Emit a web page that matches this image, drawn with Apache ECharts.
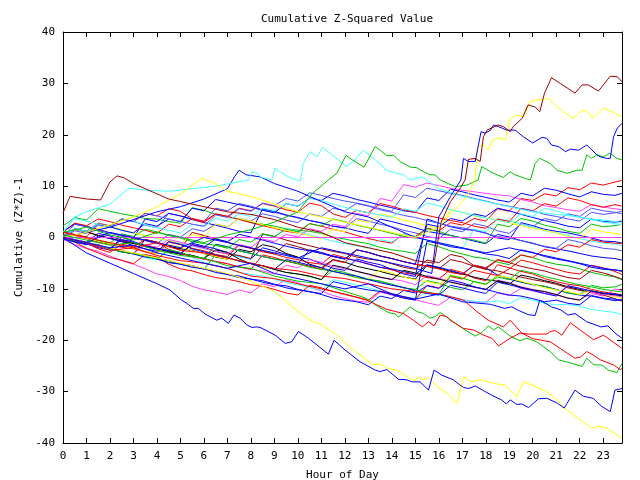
<!DOCTYPE html>
<html><head><meta charset="utf-8">
<script src="https://cdn.jsdelivr.net/npm/echarts@6/dist/echarts.min.js"></script>
<style>html,body{margin:0;padding:0;background:#fff}#c{width:640px;height:480px}</style>
</head><body><div id="c"></div>
<script>
const TITLE = "Cumulative Z-Squared Value";
const X_NAME = "Hour of Day";
const Y_NAME = "Cumulative (Z*Z)-1";
const HOURS = [0,1,2,3,4,5,6,7,8,9,10,11,12,13,14,15,16,17,18,19,20,21,22,23,23.8];
const HALF = [0,0.5,1,1.5,2,2.5,3,3.5,4,4.5,5,5.5,6,6.5,7,7.5,8,8.5,9,9.5,10,10.5,11,11.5,12,12.5,13,13.5,14,14.5,15,15.5,16,16.5,17,17.5,18,18.5,19,19.5,20,20.5,21,21.5,22,22.5,23,23.5,23.8];

// Outlier series as [hour, value] pairs
const darkredTop = [[0,4.8],[0.3,8],[1,7.5],[1.6,7.3],[2,10.8],[2.3,12],[2.6,11.6],[3,10.5],[4,8.5],[4.5,7.5],[5,7],[6,6],[7,5],[8,4.5],[9,3.5],[10,2],[11,1],[12,-1],[13,-2],[14,-3],[15,-4.5],[15.8,-5],[16.1,3],[16.5,7],[16.9,9.5],[17.12,11.2],[17.26,15.2],[17.55,15.4],[17.76,14.8],[17.9,19.6],[18.05,20.9],[18.53,21.9],[18.74,21.6],[19.04,20.6],[19.17,21.6],[19.55,23.2],[19.8,25.8],[20.1,25.4],[20.3,24.5],[20.5,28.1],[20.8,31.1],[21.17,30],[21.8,28.1],[22.1,29.7],[22.36,29.7],[22.8,28.5],[23.3,31.4],[23.6,31.3],[23.8,30.3]];
const yellowTop = [[0,0],[1,1],[2,2.5],[3,4],[4,6],[5,8.5],[5.9,11.5],[6.5,10.5],[7,9],[8,8],[9,6.5],[10,5],[11,4],[12,3],[13,2],[14,1],[15,0],[16,2],[16.6,5],[17.2,8],[17.55,11.6],[17.65,17.7],[17.9,18],[18.1,17],[18.3,19],[18.53,19.4],[18.83,19],[19.04,23.2],[19.34,23.8],[19.6,23.5],[19.9,26.4],[20.2,26.8],[20.4,26.8],[20.66,27.1],[20.96,25.8],[21.3,24.5],[21.72,23.2],[22.1,24.8],[22.32,24.5],[22.57,23.2],[23,25.2],[23.38,24.5],[23.8,23.5]];
const blueTop = [[0,0],[1,-1],[2,1],[3,0],[4,-1],[5,-2],[6,0],[7,-1],[8,-2],[9,-3],[10,-4],[11,-2],[12,-3],[13,-4],[14,-5],[15,-6],[15.7,-7],[16.0,4],[16.5,8],[16.94,11.2],[17.05,15.4],[17.25,14.8],[17.55,14.8],[17.8,20.6],[17.98,20.3],[18.2,20.9],[18.33,21.9],[18.53,21.6],[18.9,20.9],[19.25,20.9],[19.6,19.6],[20.0,18.4],[20.4,19.5],[20.6,19.3],[20.8,18],[21.1,17.7],[21.4,16.7],[21.6,17.2],[21.95,17],[22.3,18],[22.73,16.1],[22.87,15.7],[23.15,15.4],[23.3,15.4],[23.44,19.6],[23.6,21.3],[23.8,22.2]];
const greenTop = [[0,1],[1,2],[2,0.5],[3,-0.5],[4,1],[5,0],[6,-1],[7,0.5],[8,1.5],[9,3],[10,5],[10.6,8.5],[11.3,11.2],[11.66,12.5],[11.87,14.4],[12.05,16],[12.22,15.4],[12.5,14.6],[12.82,13.7],[13.29,17.7],[13.5,17],[13.79,15.9],[14.07,16],[14.35,14.8],[14.78,13.7],[15.06,13.6],[15.35,12.8],[15.63,12.2],[15.84,12.2],[16.06,11.2],[16.4,10.5],[16.7,9.9],[17.2,10.2],[17.67,11.2],[17.83,13.8],[18.2,12.8],[18.48,12.2],[18.74,11.7],[19.04,12.8],[19.25,12.2],[19.68,11.5],[19.9,11.2],[20.1,14.4],[20.3,15.4],[20.74,14.4],[21.03,13.1],[21.45,12.5],[21.88,13.1],[22.1,13.1],[22.3,16.1],[22.5,15.4],[22.73,16.1],[23.01,15.7],[23.3,16.4],[23.58,15.4],[23.8,15.1]];
const cyanTop = [[0,1],[0.5,4],[1,5],[2,6.5],[2.8,9.6],[3.5,9.2],[4.5,9],[5.5,9.5],[6.5,10],[7.9,11.2],[8.04,12.8],[8.3,12.5],[8.39,11.8],[8.89,11.2],[9.03,13.5],[9.24,12.8],[9.6,11.8],[9.95,11.2],[10.1,11.0],[10.23,14.4],[10.52,16.7],[10.8,15.7],[11.06,17.5],[11.37,16.4],[11.8,14.8],[12.05,13.8],[12.36,14.8],[12.79,17],[13.29,15.1],[13.79,13.1],[14.07,12.7],[14.5,12.2],[14.78,11.2],[15.28,11.8],[15.5,11.2],[16,9.5],[17,8],[18,7],[19,6],[20,5],[21,4.5],[22,4],[23,3],[23.8,2.5]];
const blueMid = [[0,0],[1,1],[2,2],[3,3.5],[4,5],[5,6],[6,7.5],[7,9.5],[7.3,11.8],[7.5,13.1],[7.8,12.2],[8.4,11.8],[9,10.5],[10,9],[11,7],[12,5],[13,4],[14,2],[15,0],[16,-1],[17,-2],[18,-3],[19,-2],[20,-3],[21,-4],[22,-5],[23,-6],[23.8,-6.5]];
const yellowBottom = [[0,0],[1,-1],[2,-2],[3,-3],[4,-4],[5,-5],[6,-6],[7,-7],[8,-8.5],[9,-10.5],[9.45,-12.2],[9.66,-13.1],[10.2,-15.1],[10.66,-16.4],[11.02,-17],[11.66,-19],[12.22,-21.3],[12.65,-22.9],[13.2,-24.8],[13.5,-24.6],[13.85,-25.5],[14.2,-25.8],[14.64,-27.1],[14.92,-27.9],[15.13,-27.2],[15.34,-27.7],[15.56,-27.2],[15.91,-29],[16.34,-30.3],[16.77,-32.3],[17.05,-27.1],[17.4,-28.1],[17.76,-27.7],[18.11,-28.1],[18.46,-28.5],[18.82,-28.7],[19.32,-31],[19.6,-28.1],[19.96,-28.7],[20.6,-30],[20.96,-31.3],[21.45,-33.6],[22.02,-35.5],[22.52,-37.1],[22.8,-36.7],[23.15,-37.1],[23.8,-39.1]];
const blueBottom = [[0,0],[0.5,-1.5],[1,-3],[2,-5],[3,-7],[4,-9],[4.55,-10.2],[5.05,-12.2],[5.27,-12.8],[5.55,-13.8],[5.76,-13.8],[6.05,-14.9],[6.55,-16.1],[6.76,-15.7],[7.04,-16.7],[7.28,-15.1],[7.54,-15.7],[7.82,-17],[8.04,-17.5],[8.25,-17.4],[8.39,-17.5],[9.03,-19],[9.46,-20.6],[9.74,-20.3],[10.02,-18.3],[10.45,-19.6],[11.3,-22.7],[11.54,-20],[12.01,-21.9],[12.65,-24.2],[13.29,-25.8],[13.5,-26.1],[13.79,-25.7],[14.28,-27.6],[14.64,-27.7],[14.85,-28.1],[15.2,-28.1],[15.56,-29.7],[15.8,-25.8],[16.13,-26.8],[16.62,-27.7],[16.9,-28.7],[17.06,-29.2],[17.27,-29.4],[17.55,-28.9],[17.9,-29.8],[18.25,-30.7],[18.67,-31.6],[18.88,-32.4],[19.04,-31.6],[19.32,-32.5],[19.53,-32.4],[19.82,-33.1],[20.24,-31.4],[20.6,-31.3],[21.03,-32.2],[21.34,-33.2],[21.8,-29.7],[22.15,-30.9],[22.57,-31.3],[22.94,-32.9],[23.3,-33.9],[23.5,-29.7],[23.8,-29.4]];
const greenLow = [[0,0.5],[1,-0.5],[2,-1.5],[3,-1],[4,-2.5],[5,-3.5],[6,-4],[7,-5.5],[8,-6],[9,-7.5],[10,-8.5],[11,-9],[12,-10.5],[12.7,-11.5],[13.07,-12.2],[13.29,-13.1],[13.85,-14.6],[14.14,-14.9],[14.28,-15.5],[14.78,-13.5],[15.06,-14.4],[15.35,-14.8],[15.63,-15.7],[15.84,-15.4],[16.06,-14.6],[16.34,-15.5],[16.62,-16.4],[17.12,-18],[17.55,-19.2],[17.83,-18.5],[18.11,-17.2],[18.33,-18],[18.54,-17.4],[19.04,-19.2],[19.46,-20.1],[19.75,-19.6],[20.17,-20.3],[20.74,-22.2],[21.09,-23.8],[21.6,-24.4],[22.1,-25.1],[22.3,-23.5],[22.6,-24.8],[22.94,-24.8],[23.22,-25.8],[23.58,-26.3],[23.8,-24.5]];
const redA = [[0,0],[1,-1],[2,-2.5],[3,-2],[4,-3.5],[5,-4.5],[6,-5],[7,-6],[8,-7.5],[9,-8],[10,-9],[11,-10],[12,-11],[12.93,-12.2],[13.36,-13.1],[13.79,-14],[14.5,-14.8],[14.92,-16.1],[15.3,-17.4],[15.56,-16.4],[15.8,-17.2],[16.06,-15.1],[16.34,-15.4],[16.48,-16.1],[17.05,-17.7],[17.48,-18],[17.9,-19],[18.26,-19.6],[18.54,-21.1],[19.04,-19.6],[19.46,-18.6],[19.82,-18.8],[20.6,-18.8],[20.74,-18.3],[20.96,-18.1],[21.24,-19],[21.6,-16.6],[22.02,-18],[22.59,-19.9],[23.01,-19],[23.5,-20.6],[23.8,-21.6]];
const redB = [[0,1],[1,0],[2,-1],[3,-2],[4,-1],[5,-2.5],[6,-3],[7,-4],[8,-5],[9,-6],[10,-6.5],[11,-7.5],[12,-8],[13,-9],[14,-10],[15,-10.5],[16,-11],[16.5,-11.5],[17.05,-12.2],[17.62,-14.4],[18.11,-16.1],[18.75,-17.4],[19.04,-16.1],[19.53,-18.6],[20.0,-19.7],[20.74,-20.3],[21.17,-21.6],[21.8,-23.5],[22.02,-23.3],[22.3,-22.2],[22.59,-22.9],[22.87,-23.8],[23.44,-24.8],[23.72,-25.7],[23.8,-25.5]];
const blueLow = [[0,0],[1,-1],[2,-2],[3,-1.5],[4,-3],[5,-4],[6,-5],[7,-6],[8,-5],[9,-7],[10,-8],[11,-9],[12,-10],[13,-9],[14,-11],[15,-12],[16,-11],[17,-12.5],[18.2,-13],[18.8,-13.8],[19.1,-13.5],[19.4,-14.2],[19.8,-15],[20.1,-15.2],[20.3,-12.2],[20.8,-13.5],[21.2,-14.1],[21.5,-15.1],[21.8,-14.8],[22.3,-16.4],[22.9,-17.4],[23.2,-17.2],[23.5,-18.6],[23.8,-19.6]];

// Cluster series, one value per entry of HALF (half-hour steps)
const c01 = [0.3,-0.8,-1.2,-2.0,-2.4,0.1,-0.8,-1.6,-2.1,-2.5,-3.3,-1.1,-1.7,-2.2,-2.9,-3.7,-4.2,-2.0,-2.6,-3.3,-3.9,-4.2,-5.1,-6.0,-6.4,-4.2,-4.8,-5.3,-6.2,-7.1,-7.6,3.6,2.8,2.1,1.6,1.4,0.9,-0.1,-0.4,2.9,2.3,1.6,1.2,0.9,0.4,-0.1,-0.7,-0.8,-1.1];
const c02 = [0.6,0.4,-0.2,-0.9,-1.3,-1.9,-2.2,-2.8,-3.1,-0.9,-1.4,-2.1,-2.6,-3.3,-3.7,-1.5,-2.1,-2.8,-3.2,-3.9,-4.3,-4.9,-5.2,-3.3,-3.9,-4.6,-5.1,-5.8,-6.3,-6.9,-7.2,-7.8,-8.1,-6.2,-6.8,-7.9,-8.4,-5.3,-5.9,-6.6,-7.1,-8.0,-8.6,-9.1,-9.4,-10.1,-10.6,-10.9,-11.2];
const c03 = [2.2,3.9,3.4,5.6,5.1,4.6,4.2,3.7,3.6,3.1,2.8,5.8,5.3,4.5,4.1,3.6,2.9,2.6,2.2,1.7,1.4,1.2,0.8,0.1,-0.3,-0.8,-1.2,-1.9,-2.4,-2.7,-3.1,-1.2,-1.8,-2.6,-3.2,-3.8,-4.1,-4.8,-5.3,-3.4,-3.9,-4.7,-5.2,-5.5,-6.1,-6.8,-7.3,-7.7,-8.2];
const c04 = [-0.4,-1.4,-2.1,-2.7,-3.6,-4.5,-5.2,-6.1,-7.1,-7.6,-8.4,-9.5,-10.2,-10.6,-11.1,-10.2,-10.8,-9.0,-9.6,-8.2,-8.8,-9.7,-10.4,-11.3,-11.9,-12.4,-12.6,-10.6,-11.2,-11.8,-12.1,-12.7,-13.2,-11.6,-12.1,-12.5,-12.6,-10.8,-11.3,-9.9,-10.4,-10.9,-11.2,-11.8,-12.1,-10.9,-11.4,-10.0,-10.3];
const c05 = [-0.2,-0.8,-1.1,-1.8,-2.3,-2.7,-3.2,-3.9,-4.4,-2.3,-2.9,-3.9,-4.8,-5.4,-6.1,-6.8,-7.2,-7.5,-8.1,-8.8,-9.2,-9.7,-10.3,-8.2,-8.7,-9.3,-9.8,-10.4,-10.9,-11.5,-11.8,-10.7,-11.2,-11.6,-12.1,-12.4,-12.6,-12.3,-12.9,-11.7,-12.2,-12.8,-13.1,-13.0,-13.4,-14.0,-14.3,-14.6,-15.0];
const c06 = [1.1,2.7,2.2,1.6,0.9,0.3,-0.2,-0.6,-1.1,-1.8,-2.3,1.0,0.4,-0.3,-0.9,-1.6,-2.1,-2.6,-3.2,-1.2,-1.8,-2.5,-3.1,-3.7,-4.2,-2.4,-2.9,-3.6,-4.1,-4.7,-5.2,-5.6,-6.1,-4.3,-4.8,-5.6,-6.2,-6.5,-7.1,-7.7,-8.2,-8.6,-9.1,-9.8,-10.3,-10.6,-11.2,-11.9,-12.4];
const c07 = [0.1,1.7,1.2,2.8,2.3,3.6,3.1,2.4,1.9,4.7,4.2,3.6,3.1,5.7,5.2,6.6,6.1,5.4,4.9,4.3,3.8,3.3,2.9,2.2,1.8,3.7,3.2,2.6,2.1,1.4,0.9,0.2,-0.2,1.6,1.1,2.7,2.2,1.3,0.8,2.6,2.1,3.7,3.2,4.6,4.1,5.7,5.2,4.9,4.6];
const c08 = [-0.1,-0.7,-1.2,-1.5,-2.1,-2.8,-3.2,-0.4,-0.9,-1.7,-2.2,-2.5,-3.1,-3.8,-4.2,-2.3,-2.8,-1.4,-1.9,-3.1,-3.8,-5.2,-5.9,-4.3,-4.8,-5.6,-6.1,-6.6,-7.2,-7.7,-8.1,-5.4,-5.9,-6.6,-7.1,-7.7,-8.2,-8.5,-9.1,-7.3,-7.8,-8.4,-8.9,-9.6,-10.1,-10.5,-10.9,-11.2,-11.4];
const c09 = [0.2,-0.4,-0.9,0.8,0.3,-0.5,-1.1,-1.6,-2.2,-2.8,-3.1,-3.5,-4.2,-1.3,-1.8,-2.6,-3.1,-3.7,-4.2,-4.5,-5.1,-2.4,-2.9,-3.6,-4.1,-4.5,-5.2,-5.8,-6.1,-6.6,-7.2,-5.3,-5.8,-6.4,-7.1,-5.4,-5.9,-7.3,-8.1,-8.7,-9.2,-9.5,-10.1,-10.8,-11.2,-11.4,-11.9,-12.3,-12.1];
const c10 = [1.1,2.8,2.3,3.6,3.1,2.4,1.9,1.4,0.8,2.6,2.1,3.7,3.2,4.6,4.1,3.5,2.9,2.3,1.8,1.2,0.9,2.7,2.2,1.6,1.1,0.4,-0.2,-0.7,-1.1,0.7,0.2,1.8,1.3,2.9,2.4,3.7,3.2,5.6,5.1,7.6,7.2,8.5,8.1,9.7,9.3,10.6,10.2,10.8,11.1];
const c11 = [0.1,-0.6,-1.1,-1.5,-2.2,-2.8,-3.1,-3.5,-4.2,-4.8,-5.1,-5.5,-6.2,-3.4,-3.9,-4.6,-5.1,-5.5,-6.2,-6.8,-7.1,-7.6,-8.2,-6.3,-6.8,-7.5,-8.1,-8.5,-9.2,-9.8,-10.1,-8.4,-8.9,-9.7,-10.2,-8.6,-9.1,-7.4,-7.9,-8.6,-9.1,-9.5,-10.2,-10.8,-11.1,-9.3,-9.8,-9.6,-9.1];
const c12 = [0.2,0.5,-0.1,-0.7,-1.2,-1.6,-2.1,-2.7,-3.2,-1.4,-1.9,-2.6,-3.1,-3.7,-4.2,-4.5,-5.1,-5.8,-6.2,-4.4,-4.9,-5.6,-6.1,-6.5,-7.2,-7.8,-8.1,-6.4,-6.9,-7.7,-8.2,-8.6,-9.1,-7.3,-7.8,-8.6,-9.2,-7.4,-7.9,-8.5,-9.1,-9.8,-10.2,-10.5,-11.1,-10.3,-10.8,-11.5,-11.9];
const c13 = [1.2,2.6,2.1,1.4,0.9,0.4,-0.1,3.6,3.1,4.7,4.2,3.5,2.9,2.4,1.8,1.2,0.9,5.6,5.1,4.4,3.9,3.3,2.8,2.2,1.9,1.3,0.8,3.6,3.1,2.5,1.9,1.2,0.8,0.4,-0.1,-0.7,-1.2,0.6,0.1,-0.6,-1.1,-1.8,-2.2,-2.6,-3.1,-3.6,-3.9,-4.1,-4.4];
const c14 = [0.1,-0.5,-1.2,-1.6,-2.1,-0.4,-0.9,-1.7,-2.2,-2.6,-3.1,-3.8,-4.2,-4.6,-5.1,-5.8,-6.2,-6.5,-7.1,-5.4,-5.9,-4.3,-4.8,-5.6,-6.1,-6.5,-7.2,-7.8,-8.1,-8.5,-9.2,-7.4,-7.9,-8.6,-9.1,-9.7,-10.2,-8.3,-8.8,-9.6,-10.1,-10.6,-11.2,-9.4,-9.9,-10.6,-11.1,-11.3,-11.6];
const c15 = [1.1,3.7,3.2,2.6,2.1,1.4,0.9,0.4,-0.2,-0.6,-1.1,-1.7,-2.2,-2.6,-3.1,-3.7,-4.2,0.6,0.1,1.7,1.2,0.5,-0.1,-0.7,-1.2,-1.6,-2.1,-0.4,-0.9,0.7,0.2,-0.5,-1.1,-1.6,-2.2,1.6,1.1,3.7,3.2,2.6,2.1,1.3,0.9,0.4,-0.2,-0.7,-1.1,-1.3,-1.6];
const c16 = [0.1,-0.9,-2.1,-3.0,-3.9,-4.4,-5.1,-3.3,-3.8,-5.2,-6.1,-6.5,-7.2,-7.8,-8.1,-8.6,-9.2,-9.5,-10.1,-10.8,-11.2,-9.3,-9.8,-10.5,-11.1,-11.6,-12.2,-10.4,-10.9,-11.6,-12.1,-9.3,-9.8,-7.6,-8.1,-6.4,-6.9,-7.4,-6.1,-4.4,-4.9,-5.6,-6.2,-6.8,-7.1,-5.4,-5.9,-6.6,-7.2];
const c17 = [0.0,-0.7,-1.1,-1.4,-2.2,-2.8,-3.1,-3.5,-4.2,-4.9,-5.2,-5.5,-6.1,-6.8,-7.2,-7.5,-8.1,-8.7,-9.2,-9.4,-10.1,-10.6,-10.9,-8.6,-9.1,-9.8,-10.2,-10.5,-11.1,-11.8,-12.2,-0.7,-1.2,-1.8,-2.1,-2.6,-3.2,-3.5,-4.1,-2.4,-2.9,-3.7,-4.2,-4.6,-5.1,-5.8,-6.2,-6.3,-6.6];
const c18 = [0.2,1.6,1.1,0.4,-0.2,-0.6,-1.1,-1.8,-2.2,-2.6,-3.1,-1.4,-1.9,-2.7,-3.2,-3.5,-4.1,0.7,0.2,-0.5,-1.1,-1.6,-2.2,-2.7,-3.1,-3.8,-4.2,-4.5,-5.1,-5.8,-6.2,-4.4,-4.9,-3.3,-3.8,-5.5,-6.1,-4.4,-4.9,-5.6,-6.1,-6.5,-7.2,-7.8,-8.1,-6.4,-6.9,-7.6,-8.1];
const c19 = [1.2,0.5,0.1,-0.6,-1.1,0.7,0.2,1.6,1.1,0.4,-0.1,-0.8,-1.2,-1.5,-2.1,-0.4,-0.9,0.7,0.2,1.6,1.1,2.7,2.2,3.6,3.1,2.4,1.9,1.4,0.8,0.2,-0.1,1.7,1.2,0.4,-0.1,-0.5,-1.1,2.6,2.1,3.7,3.2,2.4,1.9,1.2,0.8,2.6,2.1,2.3,2.6];
const c20 = [0.1,2.6,2.1,1.4,0.9,0.3,-0.1,-0.6,-1.2,0.6,0.1,1.7,1.2,2.6,2.1,3.7,3.2,4.6,4.1,3.4,2.9,4.6,4.1,5.7,5.2,6.6,6.1,5.4,4.9,4.3,3.9,3.3,2.8,2.2,1.9,1.4,0.8,0.2,-0.1,-0.6,-1.2,-1.7,-2.1,-0.4,-0.9,-1.6,-2.1,-2.3,-2.6];
const c21 = [0.1,1.6,1.1,0.4,-0.1,-0.8,-1.2,-1.5,-2.1,-2.8,-3.2,-3.5,-4.1,-2.4,-2.9,-4.2,-5.1,-5.5,-6.2,-6.8,-7.1,-7.5,-8.2,-5.4,-5.9,-6.6,-7.1,-7.7,-8.2,-6.4,-6.9,-7.6,-8.1,-8.7,-9.2,-9.6,-10.1,-8.4,-8.9,-9.7,-10.2,-10.5,-11.1,-11.8,-12.2,-10.4,-10.9,-11.1,-11.2];
const c22 = [-0.1,-0.5,-1.2,-1.8,-2.1,-2.5,-3.2,-3.8,-4.1,-4.5,-5.2,-5.8,-6.1,-6.5,-7.2,-7.8,-8.1,-8.4,-9.1,-9.8,-10.2,-10.5,-11.1,-11.8,-12.2,-12.5,-13.1,-11.4,-11.9,-10.3,-10.8,-9.4,-9.9,-8.3,-8.8,-9.6,-10.1,-10.7,-11.2,-11.4,-11.9,-12.5,-12.2,-12.8,-13.1,-11.3,-11.8,-12.0,-12.2];
const c23 = [0.2,-0.6,-1.1,-2.2,-2.9,-1.3,-1.8,-0.4,-0.9,-2.3,-3.1,-3.6,-4.2,-4.7,-5.1,-5.7,-6.2,-3.4,-3.9,-4.6,-5.1,-5.6,-6.2,-4.4,-4.9,-2.4,-2.9,-3.6,-4.1,-4.7,-5.2,-5.6,-6.1,-6.8,-7.2,-5.4,-5.9,-4.3,-4.8,-3.4,-3.9,-2.3,-2.8,-1.4,-1.9,-0.4,-0.9,-1.1,-1.2];
const c24 = [0.1,1.6,1.1,2.7,2.2,1.5,0.9,0.4,-0.1,-0.6,-1.2,0.6,0.1,2.6,2.1,3.7,3.2,2.5,1.9,1.4,0.9,0.3,-0.2,1.6,1.1,3.4,2.9,4.6,4.1,3.4,2.9,2.3,1.8,5.4,4.9,4.2,3.8,3.4,2.9,2.3,1.8,1.4,0.9,0.2,-0.2,1.6,1.1,0.8,0.6];
const c25 = [0.1,-0.5,-1.1,-1.7,-2.2,-2.6,-3.1,-1.4,-1.9,-0.4,-0.9,-1.6,-2.1,-2.7,-3.2,-1.4,-1.9,-0.3,-0.8,0.6,0.1,1.7,1.2,2.6,2.1,4.7,4.2,7.6,7.1,10.3,9.8,10.6,10.1,9.6,9.2,8.9,8.6,8.3,8.1,7.4,6.9,6.2,5.8,5.4,5.1,6.4,5.9,5.6,5.4];
const c26 = [0.1,1.7,1.2,2.6,2.1,1.4,0.9,2.7,2.2,3.6,3.1,5.7,5.2,7.4,6.9,6.4,5.9,5.3,4.8,6.6,6.1,7.7,7.2,8.6,8.1,7.4,6.9,6.3,5.8,5.2,4.9,7.7,7.2,9.4,8.9,8.3,7.8,7.3,6.9,8.6,8.1,9.6,9.2,8.5,7.9,8.9,8.4,8.2,8.6];
const c27 = [1.1,0.6,0.1,2.7,2.2,3.6,3.1,4.7,4.2,5.6,5.1,3.6,2.9,4.6,4.1,5.7,5.2,6.6,6.1,5.4,4.9,6.7,6.2,4.6,3.9,5.3,4.8,6.6,6.1,5.4,4.9,4.3,3.8,3.3,2.9,2.2,1.8,3.6,3.1,5.7,5.2,6.6,6.1,7.7,7.2,6.4,5.9,6.4,6.1];
const c28 = [-0.1,-0.7,-1.1,-1.5,-2.2,-2.8,-3.1,-3.6,-4.2,-2.4,-2.9,-3.6,-4.1,-1.4,-1.9,-2.6,-3.1,-3.7,-4.2,-4.6,-5.1,-5.8,-6.2,-6.6,-7.1,-7.8,-8.2,-8.5,-9.1,-9.8,-10.2,-10.6,-11.1,-7.4,-7.9,-8.6,-9.1,-7.7,-8.2,-6.4,-6.9,-7.6,-8.1,-8.7,-9.2,-9.6,-10.1,-10.4,-10.6];
const c29 = [0.1,-0.6,-1.2,-1.5,-2.1,-0.4,-0.9,-1.7,-2.2,-2.6,-3.1,-1.4,-1.9,-0.3,-0.8,0.6,0.1,-0.5,-1.1,-1.7,-2.2,-2.6,-3.1,-3.7,-4.2,-2.4,-2.9,-3.6,-4.1,-4.7,-5.2,2.6,2.1,3.7,3.2,4.6,4.1,5.7,5.2,4.5,3.9,3.3,2.8,2.2,1.9,3.6,3.1,3.0,3.2];
const c30 = [0.1,1.7,1.2,2.6,2.1,3.7,3.2,2.5,1.9,1.4,0.9,2.6,2.1,3.7,3.2,4.6,4.1,5.7,5.2,6.6,6.1,7.7,7.2,6.5,5.9,5.3,4.8,4.4,3.9,5.6,5.1,6.7,6.2,5.4,4.9,4.3,3.8,3.3,2.9,4.6,4.1,5.7,5.2,4.4,3.9,3.6,3.4,3.1,2.9];
const c31 = [0.0,1.3,0.8,2.4,1.9,3.6,3.1,4.7,4.2,3.6,3.1,2.6,2.2,4.4,3.9,5.6,5.1,6.7,6.2,7.6,7.1,8.7,8.2,7.6,7.1,6.7,6.2,5.6,5.1,8.3,7.8,9.6,9.1,8.6,8.2,7.6,7.1,6.5,6.1,5.6,5.2,4.5,4.1,3.6,3.2,4.9,4.5,4.8,5.1];
const c32 = [-0.3,-0.9,-1.4,0.3,-0.2,-0.8,-1.6,-2.2,-2.7,-0.8,-1.3,-2.2,-2.8,-3.4,-3.9,-4.6,-5.1,-5.5,-6.2,-4.3,-4.8,-5.4,-5.9,-6.6,-7.1,-7.5,-8.2,-8.8,-9.3,-9.7,-10.4,-10.9,-11.2,-9.3,-9.8,-10.4,-10.9,-8.7,-9.2,-9.8,-10.3,-10.9,-11.4,-9.4,-9.9,-10.4,-10.8,-11.0,-11.3];
const zeroLine = [0,0,0,0,0,0,0,0,0,0,0,0,0,0,0,0,0,0,0,0,0,0,0,0,0];

const COL = {red:'#ff0000', green:'#00c000', blue:'#0000ff', magenta:'#ff40ff', cyan:'#40ffff', darkred:'#a00000', yellow:'#ffff00', ltblue:'#5050ff', black:'#000000'};

const clusterSeries = [
  [c01,'blue'],[c02,'red'],[c03,'green'],[c04,'magenta'],[c05,'cyan'],[c06,'darkred'],[c07,'ltblue'],[c08,'black'],
  [c09,'blue'],[c10,'red'],[c11,'green'],[c12,'yellow'],[c13,'blue'],[c14,'magenta'],[c15,'cyan'],[c16,'red'],
  [c17,'blue'],[c18,'darkred'],[c19,'green'],[c20,'ltblue'],[c21,'black'],[c22,'blue'],[c23,'red'],[c24,'yellow'],
  [c25,'magenta'],[c26,'blue'],[c27,'red'],[c28,'green'],[c29,'blue'],[c30,'cyan'],[c31,'ltblue'],[c32,'blue']
];
const outliers = [
  [blueMid,'blue'],[cyanTop,'cyan'],[greenTop,'green'],[yellowTop,'yellow'],[blueTop,'blue'],[darkredTop,'darkred'],
  [yellowBottom,'yellow'],[blueBottom,'blue'],[greenLow,'green'],[redA,'red'],[redB,'red'],[blueLow,'blue']
];

function line(data, color){
  return {type:'line', data:data, symbol:'none', silent:true, animation:false,
    lineStyle:{width:1, color:COL[color]}, itemStyle:{color:COL[color]}};
}
const series = [];
clusterSeries.forEach(([vals,c]) => series.push(line(HALF.map((h,i)=>[h, vals[i]]), c)));
series.push(line(HOURS.map((h,i)=>[h, zeroLine[i]]), 'magenta'));
outliers.forEach(([pts,c]) => series.push(line(pts, c)));

const FONT = 'DejaVu Sans Mono';
const chart = echarts.init(document.getElementById('c'), null, {renderer:'canvas'});
chart.setOption({
  backgroundColor:'#ffffff',
  animation:false,
  title:{text:TITLE, left:342, top:9, textAlign:'center',
    textStyle:{fontFamily:FONT, fontSize:11, fontWeight:'normal', color:'#000'}},
  grid:{left:63, right:18, top:32, bottom:37, containLabel:false, outerBoundsMode:'none'},
  xAxis:[
    {type:'value', min:0, max:23.8, interval:1, position:'bottom',
     name:X_NAME, nameLocation:'middle', nameGap:27,
     nameTextStyle:{fontFamily:FONT, fontSize:11, color:'#000'},
     axisLine:{show:true, onZero:false, lineStyle:{color:'#000', width:1}},
     axisTick:{show:true, inside:true, length:5, lineStyle:{color:'#000'}},
     axisLabel:{fontFamily:FONT, fontSize:11, color:'#000', margin:8, showMaxLabel:false},
     splitLine:{show:false}},
    {type:'value', min:0, max:23.8, interval:1, position:'top',
     axisLine:{show:true, onZero:false, lineStyle:{color:'#000', width:1}},
     axisTick:{show:true, inside:true, length:5, lineStyle:{color:'#000'}},
     axisLabel:{show:false}, splitLine:{show:false}}
  ],
  yAxis:[
    {type:'value', min:-40, max:40, interval:10, position:'left',
     name:Y_NAME, nameLocation:'middle', nameGap:38, nameRotate:90,
     nameTextStyle:{fontFamily:FONT, fontSize:11, color:'#000'},
     axisLine:{show:true, onZero:false, lineStyle:{color:'#000', width:1}},
     axisTick:{show:true, inside:true, length:5, lineStyle:{color:'#000'}},
     axisLabel:{fontFamily:FONT, fontSize:11, color:'#000', margin:8},
     splitLine:{show:false}},
    {type:'value', min:-40, max:40, interval:10, position:'right',
     axisLine:{show:true, onZero:false, lineStyle:{color:'#000', width:1}},
     axisTick:{show:true, inside:true, length:5, lineStyle:{color:'#000'}},
     axisLabel:{show:false}, splitLine:{show:false}}
  ],
  series: series
});
</script></body></html>
